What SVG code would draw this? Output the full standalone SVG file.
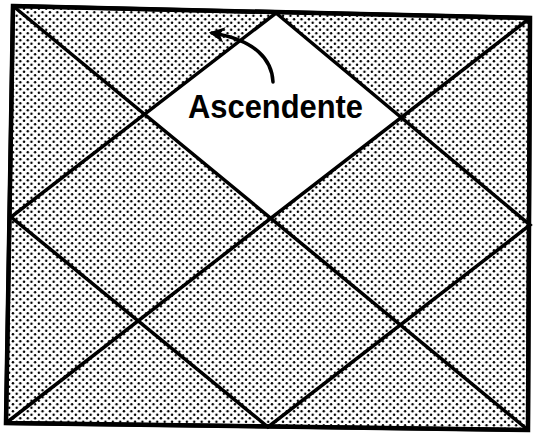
<svg xmlns="http://www.w3.org/2000/svg" width="534" height="438" viewBox="0 0 534 438">
<style>
.ln{stroke:#000;stroke-width:3.5;fill:none;stroke-linecap:round}
.bd{stroke:#000;stroke-width:4;stroke-linejoin:miter}
.lbl{font-family:"Liberation Sans",Arial,sans-serif;font-weight:bold;font-size:34px;fill:#000}
</style>
<defs>
<pattern id="dots" width="7.4" height="7" patternUnits="userSpaceOnUse">
<circle cx="1.85" cy="1.75" r="1.2" fill="#000"/>
<circle cx="5.55" cy="5.25" r="1.2" fill="#000"/>
</pattern>
<marker id="ah" viewBox="0 0 10 10" refX="8" refY="5" markerWidth="4.5" markerHeight="4.5" orient="auto" markerUnits="strokeWidth">
<path d="M0,0 L10,5 L0,10 L3,5 Z" fill="#000"/>
</marker>
</defs>
<g id="chart">
<polygon class="bd" points="13,6 530,18 528,430 6,423" fill="#fff"/>
<polygon points="13,6 530,18 528,430 6,423" fill="url(#dots)"/>
<polygon id="ascendant-house" points="276,13 144.5,114.2 270.8,218.3 401.2,117.5" fill="#fff"/>
</g>
<g id="connectors">
<line class="ln" x1="13" y1="6" x2="528" y2="430"/>
<line class="ln" x1="530" y1="18" x2="6" y2="423"/>
<polygon class="ln" points="276,13 530,225 268,427 11,217"/>
<polygon points="13,6 530,18 528,430 6,423" fill="none" stroke="#000" stroke-width="4.5"/>
<path class="ln" d="M273,82 C272,60 256,40 212,33" marker-end="url(#ah)"/>
</g>
<g id="label">
<text class="lbl" x="188" y="118" textLength="175" lengthAdjust="spacingAndGlyphs">Ascendente</text>
</g>
</svg>
